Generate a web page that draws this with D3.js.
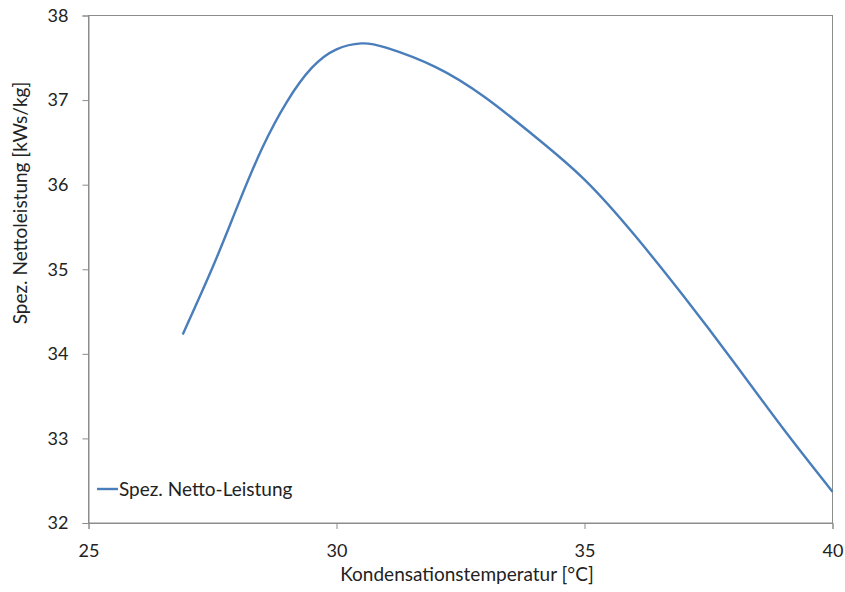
<!DOCTYPE html>
<html><head><meta charset="utf-8">
<script src="https://cdn.jsdelivr.net/npm/d3@7"></script>
<style>body{margin:0;background:#fff}svg{display:block}text{font-family:Lato,"Open Sans",sans-serif;fill:#222}</style>
</head><body><svg id="c" width="845" height="592"></svg>
<script>
const temps = [26.9, 27.5, 28, 28.5, 29, 29.5, 30, 30.5, 31, 32, 33, 34, 35, 36, 37, 38, 39, 40];
const leistung = [34.23, 35.02, 35.74, 36.43, 36.98, 37.38, 37.6, 37.67, 37.62, 37.39, 37.03, 36.57, 36.06, 35.41, 34.68, 33.91, 33.12, 32.37];
const xTicks = [25, 30, 35, 40];
const yTicks = [32, 33, 34, 35, 36, 37, 38];
const seriesName = "Spez. Netto-Leistung";
const xTitle = "Kondensationstemperatur [°C]";
const yTitle = "Spez. Nettoleistung [kWs/kg]";

const svg = d3.select("#c");
const m = {l: 88.5, r: 832.5, t: 15.5, b: 523};
const x = d3.scaleLinear().domain([25, 40]).range([m.l, m.r]);
const y = d3.scaleLinear().domain([32, 38]).range([m.b, m.t]);
const grey = "#8c8c8c";

svg.append("rect").attr("x", m.l).attr("y", m.t).attr("width", m.r - m.l).attr("height", m.b - m.t)
  .attr("fill", "none").attr("stroke", grey).attr("stroke-width", 1);

const xa = svg.append("g").attr("transform", `translate(0,${m.b})`)
  .call(d3.axisBottom(x).tickValues(xTicks).tickSize(6).tickPadding(15).tickFormat(d3.format("d")));
const ya = svg.append("g").attr("transform", `translate(${m.l},0)`)
  .call(d3.axisLeft(y).tickValues(yTicks).tickSize(6).tickPadding(14).tickFormat(d3.format("d")));
[xa, ya].forEach(a => {
  a.selectAll("path, line").attr("stroke", grey);
  a.selectAll("text").attr("font-size", 18).attr("font-family", "Lato, 'Open Sans', sans-serif").attr("fill", "#222");
});

const line = d3.line().x((d, i) => x(temps[i])).y(d => y(d)).curve(d3.curveNatural);
svg.append("path").datum(leistung).attr("d", line).attr("fill", "none")
  .attr("stroke", "#4a7ebb").attr("stroke-width", 2.4);

svg.append("line").attr("x1", 97).attr("x2", 118).attr("y1", 489).attr("y2", 489)
  .attr("stroke", "#4a7ebb").attr("stroke-width", 2.4);
svg.append("text").attr("x", 119).attr("y", 495.5).attr("font-size", 19).text(seriesName);

svg.append("text").attr("x", 467).attr("y", 581).attr("text-anchor", "middle")
  .attr("font-size", 19).text(xTitle);
svg.append("text").attr("transform", `translate(27,203) rotate(-90)`)
  .attr("text-anchor", "middle").attr("font-size", 19).text(yTitle);
</script></body></html>
